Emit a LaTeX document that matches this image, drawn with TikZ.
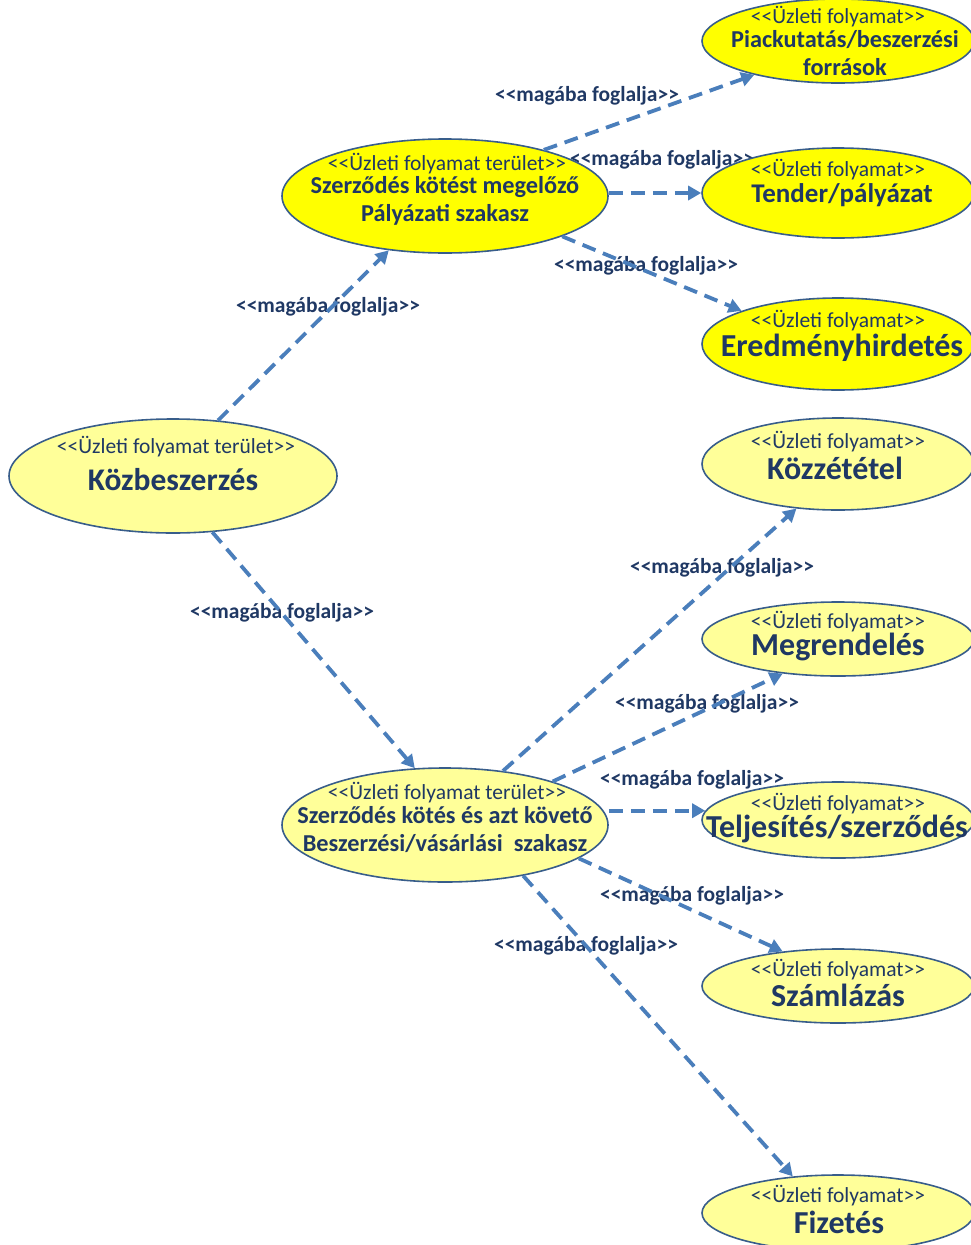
\documentclass[tikz,border=0pt]{standalone}
\usepackage{fontspec}
\setmainfont{Carlito}
\usetikzlibrary{shapes.geometric,arrows.meta}
\definecolor{procline}{HTML}{385D8A}
\definecolor{proctext}{HTML}{1F3864}
\definecolor{incblue}{HTML}{4A7EBB}
\definecolor{yelbright}{HTML}{FFFF00}
\definecolor{yelpale}{HTML}{FFFF99}
\newcommand{\lchev}{<\kern0pt<}
\newcommand{\rchev}{>\kern0pt>}

\begin{document}
\begin{tikzpicture}[x=1pt, y=-1pt,
    proc/.style={ellipse, draw=procline, line width=1.6pt, inner sep=0pt},
    stereo/.style={text=proctext, inner sep=0pt, font=\fontsize{21.5}{23}\selectfont},
    ptitle/.style={text=proctext, inner sep=0pt, font=\bfseries\fontsize{#1}{28}\selectfont, align=center},
    incl/.style={text=proctext, font=\bfseries\fontsize{21.5}{23}\selectfont},
    arr/.style={draw=incblue, line width=3.8pt, dash pattern=on 14pt off 8pt,
        -{Triangle[length=13pt,width=14pt]}}]
    \useasboundingbox (0,0) rectangle (971,1245);

    % labels of the include relations
    \node[incl] (l1) at (328,307) {\lchev magába foglalja\rchev};
    \node[incl] (l2) at (282,613) {\lchev magába foglalja\rchev};
    \node[incl] (l3) at (587,96) {\lchev magába foglalja\rchev};
    \node[incl] (l4) at (662,160) {\lchev magába foglalja\rchev};
    \node[incl] (l5) at (646,266) {\lchev magába foglalja\rchev};
    \node[incl] (l6) at (722,568) {\lchev magába foglalja\rchev};
    \node[incl] (l7) at (707,704) {\lchev magába foglalja\rchev};
    \node[incl] (l8) at (692,780) {\lchev magába foglalja\rchev};
    \node[incl] (l9) at (692,896) {\lchev magába foglalja\rchev};
    \node[incl] (l10) at (586,946) {\lchev magába foglalja\rchev};

    % areas
    \node[proc, fill=yelpale, minimum width=328pt, minimum height=114pt] (kozb) at (173,476) {};
    \node[stereo] at (176,447) {\lchev Üzleti folyamat terület\rchev};
    \node[ptitle=31.5] at (173,480) {Közbeszerzés};

    \node[proc, fill=yelbright, minimum width=326pt, minimum height=114pt] (pal) at (445,196) {};
    \node[stereo] at (447,164) {\lchev Üzleti folyamat terület\rchev};
    \node[ptitle=24.3] at (445,201) {Szerződés kötést megelőző\\Pályázati szakasz};

    \node[proc, fill=yelpale, minimum width=326pt, minimum height=114pt] (besz) at (445,825) {};
    \node[stereo] at (447,793) {\lchev Üzleti folyamat terület\rchev};
    \node[ptitle=24.3] at (445,830) {Szerződés kötés és azt követő\\Beszerzési/vásárlási\ \ szakasz};

    % processes
    \node[proc, fill=yelbright, minimum width=272pt, minimum height=84pt] (piac) at (838,41) {};
    \node[stereo] at (838,17) {\lchev Üzleti folyamat\rchev};
    \node[ptitle=24.3] at (845,53) {Piackutatás/beszerzési\\források};

    \node[proc, fill=yelbright, minimum width=272pt, minimum height=90pt] (tender) at (838,193) {};
    \node[stereo] at (838,170) {\lchev Üzleti folyamat\rchev};
    \node[ptitle=27] at (842,195) {Tender/pályázat};

    \node[proc, fill=yelbright, minimum width=272pt, minimum height=92pt] (eredm) at (838,344) {};
    \node[stereo] at (838,321) {\lchev Üzleti folyamat\rchev};
    \node[ptitle=32] at (842,348) {Eredményhirdetés};

    \node[proc, fill=yelpale, minimum width=272pt, minimum height=92pt] (kozz) at (838,464) {};
    \node[stereo] at (838,442) {\lchev Üzleti folyamat\rchev};
    \node[ptitle=32] at (835,468) {Közzététel};

    \node[proc, fill=yelpale, minimum width=272pt, minimum height=74pt] (megr) at (838,639) {};
    \node[stereo] at (838,622) {\lchev Üzleti folyamat\rchev};
    \node[ptitle=32] at (838,647) {Megrendelés};

    \node[proc, fill=yelpale, minimum width=272pt, minimum height=76pt] (telj) at (838,820) {};
    \node[stereo] at (838,804) {\lchev Üzleti folyamat\rchev};
    \node[ptitle=32] at (837,829) {Teljesítés/szerződés};

    \node[proc, fill=yelpale, minimum width=272pt, minimum height=74pt] (szaml) at (838,986) {};
    \node[stereo] at (838,970) {\lchev Üzleti folyamat\rchev};
    \node[ptitle=32] at (838,995) {Számlázás};

    \node[proc, fill=yelpale, minimum width=272pt, minimum height=76pt] (fiz) at (838,1213) {};
    \node[stereo] at (838,1196) {\lchev Üzleti folyamat\rchev};
    \node[ptitle=32] at (839,1222) {Fizetés};

    % include relations
    \draw[arr] (kozb.51) -- (pal.224);
    \draw[arr] (kozb.305) -- (besz.118);
    \draw[arr] (pal.25) -- (piac.202);
    \draw[arr] (pal.east |- tender.west) -- (tender.west);
    \draw[arr] (pal.341) -- (eredm.161);
    \draw[arr] (besz.43) -- (kozz.227);
    \draw[arr] (besz.22) -- (megr.212);
    \draw[arr] (besz.east |- telj.176) -- (telj.176);
    \draw[arr] (besz.346) -- (szaml.148);
    \draw[arr] (besz.327) -- (fiz.141);
\end{tikzpicture}
\end{document}
